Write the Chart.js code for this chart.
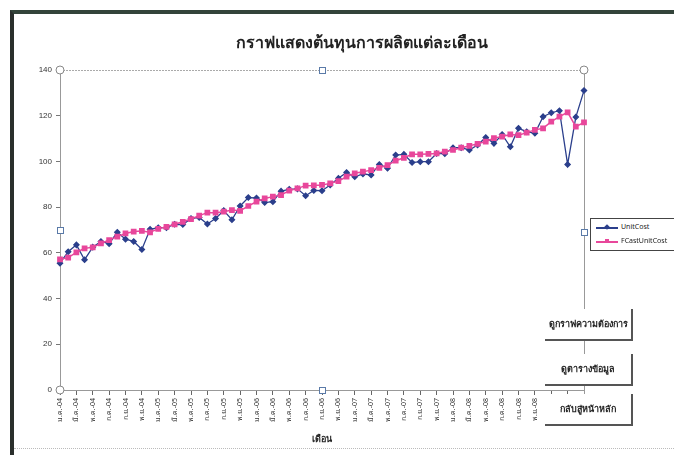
<!DOCTYPE html>
<html>
<head>
<meta charset="utf-8">
<script src="https://cdn.jsdelivr.net/npm/chart.js@4.4.1/dist/chart.umd.min.js"></script>
<style>
  body { margin: 0; background: #fff; font-family: "Noto Sans", "DejaVu Sans", sans-serif; }
  #wrap { position: relative; width: 674px; height: 455px; overflow: hidden; }
  #frame { position: absolute; left: 10px; top: 10px; right: -5px; bottom: -5px;
           border-top: 4px solid #33443a; border-left: 4px solid #2a2f2c; }
  #bottomLine { position: absolute; left: 14px; right: 0; top: 448px; border-top: 1px dotted #bbb; }
  #title { position: absolute; left: 190px; width: 344px; top: 30px; text-align: center;
           font-weight: bold; font-size: 16px; color: #222; }
  canvas { position: absolute; left: 0; top: 0; }
  #legend { position: absolute; left: 590px; top: 218px; width: 90px; height: 31px;
            border: 1px solid #444; background: #fff; font-size: 7px; color: #222; }
  .item { position: absolute; left: 5px; height: 10px; line-height: 10px; }
  .item .ln { position: absolute; left: 0; top: 5px; width: 22px; height: 1.5px; }
  .item .mk { position: absolute; left: 8.5px; top: 2.5px; width: 4px; height: 4px; }
  .item span.t { position: absolute; left: 25px; top: 0; white-space: nowrap; }
  .btn { position: absolute; left: 545px; width: 86px; height: 30px; background: #fff;
         border-right: 2px solid #555; border-bottom: 2px solid #555;
         font-size: 9px; font-weight: bold; color: #222; text-align: center; line-height: 30px; }
</style>
</head>
<body>
<div id="wrap">
  <div id="frame"></div>
  <div id="bottomLine"></div>
  <canvas id="chart" width="674" height="455"></canvas>
  <div id="title">กราฟแสดงต้นทุนการผลิตแต่ละเดือน</div>
  <div id="legend">
    <div class="item" style="top:3px"><div class="ln" style="background:#2b3f8c"></div><div class="mk" style="background:#2b3f8c;transform:rotate(45deg)"></div><span class="t">UnitCost</span></div>
    <div class="item" style="top:17px"><div class="ln" style="background:#e8479b"></div><div class="mk" style="background:#e8479b"></div><span class="t">FCastUnitCost</span></div>
  </div>
  <div class="btn" style="top:309px">ดูกราฟความต้องการ</div>
  <div class="btn" style="top:354px">ดูตารางข้อมูล</div>
  <div class="btn" style="top:394px">กลับสู่หน้าหลัก</div>
</div>
<script>
// ชื่อเดือน / ปี
const thaiMonths = ['ม.ค.', 'ก.พ.', 'มี.ค.', 'เม.ย.', 'พ.ค.', 'มิ.ย.', 'ก.ค.', 'ส.ค.', 'ก.ย.', 'ต.ค.', 'พ.ย.', 'ธ.ค.'];
const years = ['04', '05', '06', '07', '08', '09'];
const monthCount = 65;

// ต้นทุนจริง
const unitCost = [
    55.5, 60.5, 63.5, 57, 62.5, 65, 64, 69, 66, 65, 61.5, 70.3,
    71, 71, 72.5, 72.4, 75, 75.5, 72.6, 75, 78.5, 74.5, 80.5, 84.2,
    84, 82, 82.4, 87, 87.8, 88, 85, 87.3, 87.2, 89.7, 92.6, 95.2,
    93.3, 94.5, 94.1, 98.7, 97, 102.8, 103.1, 99.5, 99.9, 99.9, 103.5, 103.4,
    106, 106, 105, 107.2, 110.5, 107.9, 111.8, 106.4, 114.5, 113, 112.3, 119.6,
    121.3, 122.2, 98.7, 119.4, 131
];

// ต้นทุนพยากรณ์
const fcastUnitCost = [
    57.2, 57.9, 60.2, 62, 62.4, 64.1, 65.6, 67.1, 68.5, 69.3, 69.6, 69,
    70.5, 71.4, 72.5, 73.6, 74.8, 76.3, 77.6, 77.6, 78, 78.7, 78.4, 80.5,
    82.4, 83.8, 84.6, 85.3, 87.2, 88.2, 89.4, 89.5, 89.7, 90.4, 91.4, 93.3,
    94.8, 95.5, 96.2, 97.2, 98.4, 100.3, 101.6, 103.1, 103.1, 103.3, 103.5, 104.3,
    105, 106, 106.8, 107.7, 108.7, 110.2, 110.9, 111.8, 111.5, 112.6, 113.8, 114.5,
    117.4, 119.6, 121.5, 115.2, 117.1
];

const labels = [];
for (let i = 0; i < monthCount; i++) {
    labels.push(thaiMonths[i % 12] + '-' + years[Math.floor(i / 12)]);
}

// กรอบเลือกพื้นที่กราฟ (แบบ Excel)
const selectionFrame = {
    id: 'selectionFrame',
    beforeDatasetsDraw(chart) {
        const a = chart.chartArea;
        const c = chart.ctx;
        c.save();
        c.strokeStyle = '#aaa';
        c.lineWidth = 1;
        c.setLineDash([2, 1]);
        c.beginPath();
        c.moveTo(a.left, a.top + 0.5);
        c.lineTo(a.right, a.top + 0.5);
        c.stroke();
        c.setLineDash([]);
        c.strokeStyle = '#999';
        c.beginPath();
        c.moveTo(a.right + 0.5, a.top);
        c.lineTo(a.right + 0.5, a.bottom + 6);
        c.stroke();
        c.restore();
    },
    afterDraw(chart) {
        const a = chart.chartArea;
        const c = chart.ctx;
        const mx = (a.left + a.right) / 2;
        const my = (a.top + a.bottom) / 2;
        c.save();
        c.fillStyle = '#fff';
        c.lineWidth = 1;
        c.strokeStyle = '#888';
        [[a.left, a.top], [a.right, a.top], [a.left, a.bottom]].forEach(p => {
            c.beginPath();
            c.arc(p[0], p[1], 4, 0, Math.PI * 2);
            c.fill();
            c.stroke();
        });
        c.strokeStyle = '#5a7aa8';
        [[mx, a.top], [a.left, my], [a.right, my + 2], [mx, a.bottom]].forEach(p => {
            c.fillRect(p[0] - 3, p[1] - 3, 6, 6);
            c.strokeRect(p[0] - 3 + 0.5, p[1] - 3 + 0.5, 6, 6);
        });
        c.restore();
    }
};

const ctx = document.getElementById('chart').getContext('2d');
new Chart(ctx, {
    type: 'line',
    data: {
        labels: labels,
        datasets: [{
            label: 'UnitCost',
            data: unitCost,
            borderColor: '#2b3f8c',
            backgroundColor: '#2b3f8c',
            borderWidth: 1.3,
            pointStyle: 'rectRot',
            pointRadius: 2.6,
            tension: 0,
            order: 2
        }, {
            label: 'FCastUnitCost',
            data: fcastUnitCost,
            borderColor: '#e8479b',
            backgroundColor: '#e8479b',
            borderWidth: 1.5,
            pointStyle: 'rect',
            pointRadius: 3,
            tension: 0,
            order: 1
        }]
    },
    options: {
        responsive: false,
        animation: false,
        layout: { padding: { left: 0, right: 90, top: 70, bottom: 0 } },
        plugins: {
            legend: { display: false },
            tooltip: { enabled: false }
        },
        scales: {
            y: {
                min: 0,
                max: 140,
                afterFit: s => { s.width = 60; },
                ticks: {
                    stepSize: 20,
                    padding: 4,
                    color: '#333',
                    font: { family: 'Liberation Sans', size: 8 }
                },
                grid: { drawOnChartArea: false, tickLength: 4, color: '#777' },
                border: { color: '#999', width: 1 }
            },
            x: {
                afterFit: s => { s.height = 65; },
                ticks: {
                    autoSkip: false,
                    minRotation: 90,
                    maxRotation: 90,
                    padding: 3,
                    color: '#333',
                    font: { family: 'Noto Sans', size: 7 },
                    callback: function (v, i) { return i % 2 === 0 ? this.getLabelForValue(v) : ''; }
                },
                grid: {
                    drawOnChartArea: false,
                    tickLength: 5,
                    color: c => (c.index % 2 === 0 ? '#666' : 'rgba(0,0,0,0)')
                },
                border: { color: '#999', width: 1 },
                title: {
                    display: true,
                    text: 'เดือน',
                    color: '#222',
                    font: { family: 'Noto Sans', size: 9, weight: 'bold' },
                    padding: { top: 0, bottom: 10 }
                }
            }
        }
    },
    plugins: [selectionFrame]
});
</script>
</body>
</html>
